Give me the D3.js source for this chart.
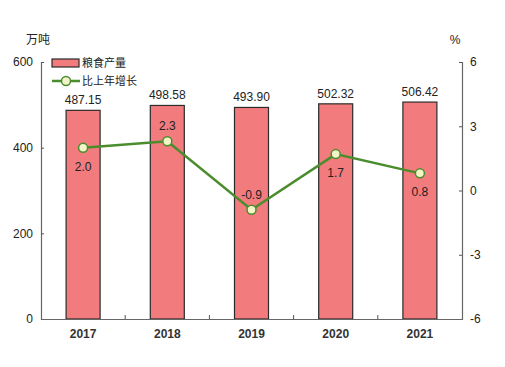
<!DOCTYPE html>
<html><head><meta charset="utf-8">
<script src="https://cdn.jsdelivr.net/npm/d3@7"></script>
<style>body{margin:0;background:#fff}svg{display:block}text{font-family:"Liberation Sans","Noto Sans CJK SC",Arial,sans-serif}</style>
</head><body>
<script>
const years = ["2017","2018","2019","2020","2021"];
const output = [487.15, 498.58, 493.90, 502.32, 506.42];
const growth = [2.0, 2.3, -0.9, 1.7, 0.8];
const leftTicks = [0, 200, 400, 600];
const rightTicks = [-6, -3, 0, 3, 6];
const growthLabelPos = ["below","above","above","below","below"];

const W = 505, H = 367;
const m = {l:41, r:43, t:62, b:48};
const svg = d3.select("body").append("svg").attr("width", W).attr("height", H);
const xb = d3.scaleBand().domain(years).range([m.l, W - m.r]);
const yL = d3.scaleLinear().domain([0, 600]).range([H - m.b, m.t]);
const yR = d3.scaleLinear().domain([-6, 6]).range([H - m.b, m.t]);
const fs = 12;

// bars
svg.selectAll("rect.bar").data(years).enter().append("rect")
  .attr("x", d => xb(d) + xb.bandwidth()/2 - 17)
  .attr("width", 34)
  .attr("y", (d,i) => yL(output[i]))
  .attr("height", (d,i) => yL(0) - yL(output[i]))
  .attr("fill", "#f27b7e").attr("stroke", "#2b2b2b").attr("stroke-width", 1.2);

// bar labels
svg.selectAll("text.bl").data(years).enter().append("text")
  .attr("x", d => xb(d) + xb.bandwidth()/2)
  .attr("y", (d,i) => yL(output[i]) - 6)
  .attr("text-anchor", "middle").attr("font-size", fs).attr("fill", "#222")
  .text((d,i) => output[i].toFixed(2));

// axes
const gL = svg.append("g").attr("transform", `translate(${m.l},0)`)
  .call(d3.axisLeft(yL).tickValues(leftTicks).tickSize(-3).tickPadding(8).tickFormat(d => String(d)));
const gR = svg.append("g").attr("transform", `translate(${W - m.r},0)`)
  .call(d3.axisRight(yR).tickValues(rightTicks).tickSize(-3).tickPadding(8).tickFormat(d => String(d)));
const gB = svg.append("g").attr("transform", `translate(0,${H - m.b})`)
  .call(d3.axisBottom(xb).tickSize(0).tickPadding(10));
[gL, gR, gB].forEach(g => {
  g.select(".domain").attr("stroke", "#666").attr("stroke-width", 1.2);
  g.selectAll(".tick line").attr("stroke", "#555");
  g.selectAll("text").attr("font-size", fs).attr("fill", "#222").attr("font-family", "Liberation Sans, Arial, sans-serif");
});
gB.selectAll("text").attr("font-weight", "bold").attr("fill", "#333");
// separators between categories on bottom
svg.selectAll("line.sep").data(years.slice(1)).enter().append("line")
  .attr("x1", d => xb(d)).attr("x2", d => xb(d))
  .attr("y1", H - m.b).attr("y2", H - m.b - 4)
  .attr("stroke", "#555");

// line
const line = d3.line().x((d,i) => xb(years[i]) + xb.bandwidth()/2).y(d => yR(d));
svg.append("path").datum(growth).attr("d", line).attr("fill", "none")
  .attr("stroke", "#4a8d2c").attr("stroke-width", 2.5);
svg.selectAll("circle.pt").data(growth).enter().append("circle")
  .attr("cx", (d,i) => xb(years[i]) + xb.bandwidth()/2)
  .attr("cy", d => yR(d)).attr("r", 4.5)
  .attr("fill", "#f3f5c9").attr("stroke", "#4a8d2c").attr("stroke-width", 1.5);
svg.selectAll("text.gl").data(growth).enter().append("text")
  .attr("x", (d,i) => xb(years[i]) + xb.bandwidth()/2)
  .attr("y", (d,i) => growthLabelPos[i] === "above" ? yR(d) - 11 : yR(d) + 23)
  .attr("text-anchor", "middle").attr("font-size", fs).attr("fill", "#222")
  .text(d => d.toFixed(1));

// unit titles
svg.append("text").attr("x", 26).attr("y", 44).attr("font-size", 12).attr("fill", "#222")
  .attr("font-family", "Noto Sans CJK SC").text("万吨");
svg.append("text").attr("x", 455).attr("y", 44).attr("font-size", 12).attr("fill", "#222")
  .attr("text-anchor", "middle").text("%");

// legend
const lg = svg.append("g");
lg.append("rect").attr("x", 52).attr("y", 59).attr("width", 27).attr("height", 8)
  .attr("fill", "#f27b7e").attr("stroke", "#2b2b2b").attr("stroke-width", 1.2);
lg.append("text").attr("x", 82).attr("y", 67).attr("font-size", 11).attr("fill", "#222")
  .attr("font-family", "Noto Sans CJK SC").text("粮食产量");
lg.append("line").attr("x1", 52).attr("x2", 80).attr("y1", 81).attr("y2", 81)
  .attr("stroke", "#4a8d2c").attr("stroke-width", 2.5);
lg.append("circle").attr("cx", 66).attr("cy", 81).attr("r", 4.5)
  .attr("fill", "#f3f5c9").attr("stroke", "#4a8d2c").attr("stroke-width", 1.5);
lg.append("text").attr("x", 82).attr("y", 85).attr("font-size", 11).attr("fill", "#222")
  .attr("font-family", "Noto Sans CJK SC").text("比上年增长");
</script>
</body></html>
